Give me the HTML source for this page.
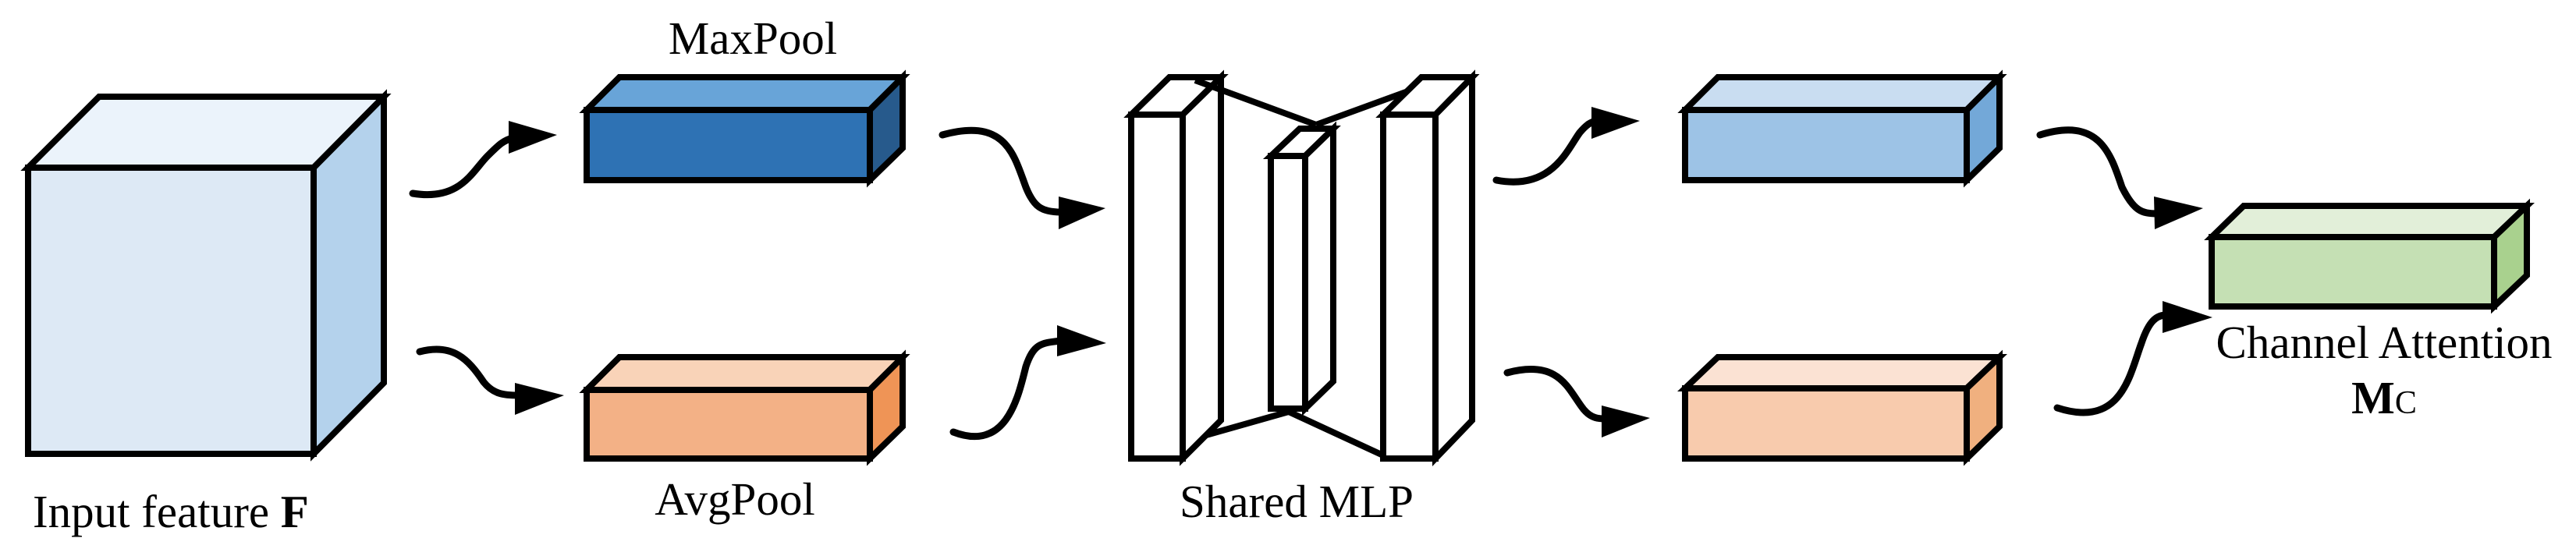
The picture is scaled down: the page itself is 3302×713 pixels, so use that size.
<!DOCTYPE html>
<html><head><meta charset="utf-8"><style>html,body{margin:0;padding:0;background:#fff}svg{display:block}</style></head>
<body>
<svg width="3302" height="713" viewBox="0 0 3302 713" xmlns="http://www.w3.org/2000/svg" font-family="'Liberation Serif',serif">
<g stroke="#000" stroke-width="8" stroke-linejoin="miter">
<polygon points="36,215 127,124 492,124 402,215" fill="#ebf3fb"/>
<polygon points="402,215 492,124 492,491 402,582" fill="#b4d2ec"/>
<rect x="36" y="215" width="366" height="367" fill="#dde9f5"/>
<polygon points="752,141 794,99 1157,99 1115,141" fill="#68a4d8"/>
<polygon points="1115,141 1157,99 1157,190 1115,231" fill="#275a8c"/>
<rect x="752" y="141" width="363" height="90" fill="#2e72b4"/>
<polygon points="752,500 794,458 1157,458 1115,500" fill="#f9d3b8"/>
<polygon points="1115,500 1157,458 1157,547 1115,588" fill="#ef9456"/>
<rect x="752" y="500" width="363" height="88" fill="#f3b186"/>
<polygon points="1450,147 1499,99 1565,99 1516,147" fill="#fff"/>
<polygon points="1516,147 1565,99 1565,539 1516,588" fill="#fff"/>
<rect x="1450" y="147" width="66" height="441" fill="#fff"/>
<line x1="1532" y1="103" x2="1687" y2="160"/>
<line x1="1687" y1="160" x2="1802" y2="118"/>
<line x1="1546" y1="558" x2="1652" y2="528"/>
<line x1="1652" y1="528" x2="1773" y2="584"/>
<polygon points="1629,200 1666,165 1709,165 1673,200" fill="#fff"/>
<polygon points="1673,200 1709,165 1709,489 1673,524" fill="#fff"/>
<rect x="1629" y="200" width="44" height="324" fill="#fff"/>
<polygon points="1773,147 1822,99 1887,99 1840,147" fill="#fff"/>
<polygon points="1840,147 1887,99 1887,539 1840,588" fill="#fff"/>
<rect x="1773" y="147" width="67" height="441" fill="#fff"/>
<polygon points="2160,141 2202,99 2563,99 2521,141" fill="#c9ddf1"/>
<polygon points="2521,141 2563,99 2563,190 2521,231" fill="#73a8d8"/>
<rect x="2160" y="141" width="361" height="90" fill="#9dc3e6"/>
<polygon points="2160,498 2202,458 2563,458 2521,498" fill="#fbe2d3"/>
<polygon points="2521,498 2563,458 2563,547 2521,588" fill="#f0b07f"/>
<rect x="2160" y="498" width="361" height="90" fill="#f8cbad"/>
<polygon points="2835,304 2876,264 3239,264 3197,304" fill="#e2efd9"/>
<polygon points="3197,304 3239,264 3239,353 3197,393" fill="#a9d18e"/>
<rect x="2835" y="304" width="362" height="89" fill="#c5e0b4"/>
</g>
<g fill="none" stroke="#000" stroke-width="9" stroke-linecap="round">
<path d="M529,248 C590,258 605,220 625,200 C640,185 645,180 660,176"/>
<path d="M538,451 C580,440 600,460 620,490 C632,505 645,507 665,507"/>
<path d="M1208,173 C1290,150 1300,200 1315,240 C1325,265 1335,272 1360,272"/>
<path d="M1222,554 C1290,580 1305,510 1315,470 C1325,440 1335,440 1360,437"/>
<path d="M1918,231 C1990,245 2010,190 2025,170 C2035,158 2040,157 2045,155"/>
<path d="M1932,478 C2000,460 2010,500 2030,525 C2040,537 2050,537 2058,537"/>
<path d="M2615,173 C2690,150 2705,195 2720,240 C2735,270 2745,274 2765,274"/>
<path d="M2637,523 C2720,550 2730,480 2745,440 C2755,410 2765,405 2775,404"/>
</g>
<g fill="#000">
<polygon points="652,155 714,173 652,197"/>
<polygon points="660,491 723,507 660,532"/>
<polygon points="1357,252 1417,267 1357,294"/>
<polygon points="1355,417 1418,440 1355,457"/>
<polygon points="2040,137 2102,155 2040,178"/>
<polygon points="2053,520 2115,536 2053,561"/>
<polygon points="2761,252 2824,267 2762,294"/>
<polygon points="2772,386 2836,407 2772,427"/>
</g>
<g font-size="59" fill="#000">
<text x="965" y="69" text-anchor="middle">MaxPool</text>
<text x="942" y="660" text-anchor="middle">AvgPool</text>
<text x="42" y="676">Input feature <tspan font-weight="bold">F</tspan></text>
<text x="1662" y="663" text-anchor="middle">Shared MLP</text>
<text x="3056" y="459" text-anchor="middle">Channel Attention</text>
<text x="3056" y="530" text-anchor="middle" font-weight="bold">M<tspan font-size="42" font-weight="normal">C</tspan></text>
</g>
</svg>
</body></html>
